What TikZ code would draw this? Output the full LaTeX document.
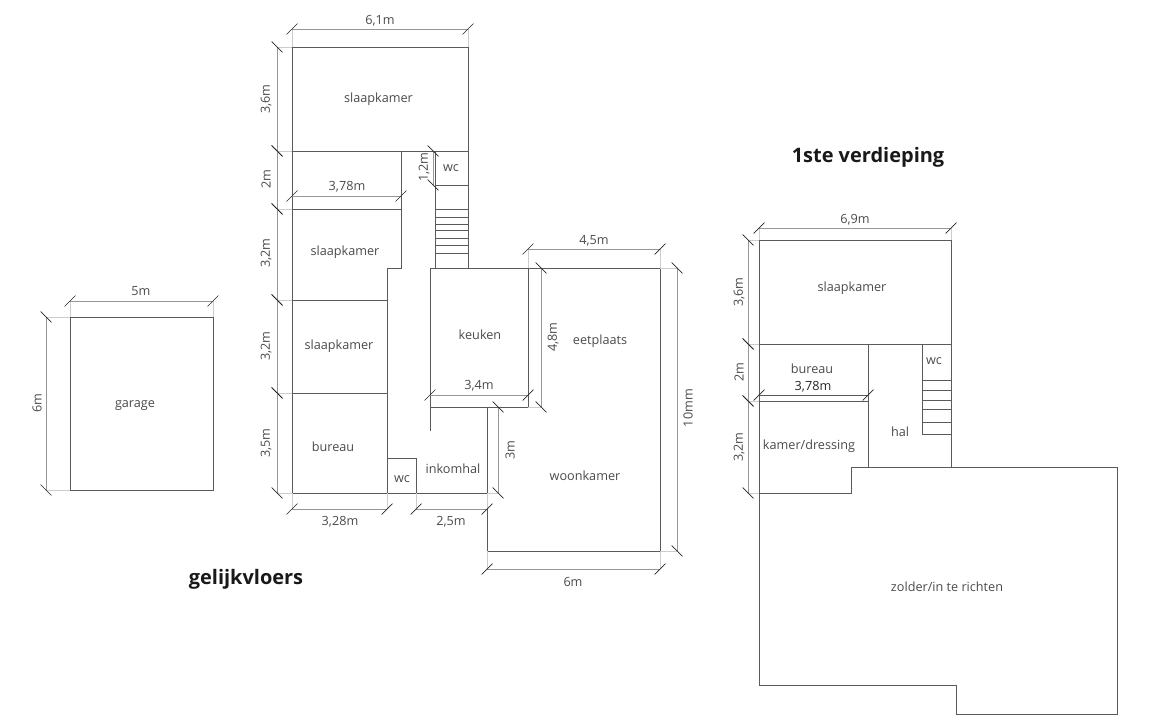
\documentclass[tikz,border=0pt]{standalone}
\usepackage{fontspec}
\setmainfont{Open Sans}
\usetikzlibrary{decorations.markings}
\definecolor{wallgrey}{HTML}{5A5A5A}
\definecolor{dimgrey}{HTML}{979797}
\definecolor{extgrey}{HTML}{CCCCCC}
\definecolor{textgrey}{HTML}{4A4A4A}
\tikzset{wall/.style={draw=wallgrey,line width=0.62pt}}
\tikzset{extline/.style={draw=extgrey,line width=0.6pt}}
\tikzset{dimline/.style={draw=dimgrey,line width=0.65pt,decoration={markings,
	mark=at position 0 with {\draw[black!85,line width=0.5pt] (-1.35mm,-1.35mm) -- (1.35mm,1.35mm);},
	mark=at position 1 with {\draw[black!85,line width=0.5pt] (-1.35mm,-1.35mm) -- (1.35mm,1.35mm);}},postaction={decorate}}}
\tikzset{room/.style={text=textgrey,font=\fontsize{9}{11}\selectfont,inner sep=0pt,yshift=-1.3pt}}
\tikzset{maat/.style={room}}
\tikzset{vmaat/.style={text=textgrey,font=\fontsize{9}{11}\selectfont,inner sep=0pt,rotate=90}}
\tikzset{titel/.style={text=black!90,font=\fontsize{14.2}{17}\selectfont\bfseries,inner sep=0pt,yshift=-1.3pt}}

\begin{document}
\begin{tikzpicture}[x=0.025cm,y=-0.025cm]
	\useasboundingbox (0,0) rectangle (1152,727);
	% garage
	\draw[wall] (70,317) rectangle (213,490);
	\draw[extline] (46,317) -- (70,317);
	\draw[extline] (46,490) -- (70,490);
	\draw[extline] (70,301) -- (70,317);
	\draw[extline] (213,301) -- (213,317);
	\draw[dimline] (70,301) -- (213,301);
	\draw[dimline] (46,317) -- (46,490);
	\node[maat] (garagew) at (141,289.5) {5m};
	\node[vmaat] (garageh) at (37,403) {6m};
	\node[room] (garage) at (135,403.5) {garage};
	% gelijkvloers, walls
	\draw[wall] (292,47) -- (468,47) -- (468,268);
	\draw[wall] (292,47) -- (292,493) -- (487,493);
	\draw[wall] (292,151) -- (468,151);
	\draw[wall] (292,209) -- (401,209);
	\draw[wall] (401,151) -- (401,268) -- (387,268) -- (387,493);
	\draw[wall] (292,300) -- (387,300);
	\draw[wall] (292,393) -- (387,393);
	\draw[wall] (387,458) -- (416,458) -- (416,493);
	\draw[wall] (435,151) -- (435,268);
	\draw[wall] (435,185) -- (468,185);
	\foreach \y in {209,217,224,230,238,245,253}
		\draw[wall] (435,\y) -- (468,\y);
	\draw[wall] (430,431) -- (430,268) -- (660,268) -- (660,551) -- (487,551) -- (487,407);
	\draw[wall] (430,407) -- (528,407) -- (528,268);
	% gelijkvloers, extension lines
	\foreach \y in {47,151,209,300,393,493}
		\draw[extline] (277,\y) -- (292,\y);
	\foreach \x in {292,468}
		\draw[extline] (\x,29) -- (\x,47);
	\foreach \x in {292,387,416,487}
		\draw[extline] (\x,493) -- (\x,509);
	\foreach \x in {528,660}
		\draw[extline] (\x,249) -- (\x,268);
	\foreach \y in {268,551}
		\draw[extline] (660,\y) -- (677,\y);
	\foreach \x in {487,660}
		\draw[extline] (\x,551) -- (\x,569);
	\draw[extline] (528,407) -- (541,407);
	\draw[extline] (487,493) -- (498,493);
	% gelijkvloers, dimensions
	\draw[dimline] (292,29) -- (468,29);
	\draw[dimline] (277,47) -- (277,151);
	\draw[dimline] (277,151) -- (277,209);
	\draw[dimline] (277,209) -- (277,300);
	\draw[dimline] (277,300) -- (277,393);
	\draw[dimline] (277,393) -- (277,493);
	\draw[dimline] (292,196) -- (401,196);
	\draw[dimline] (433,151) -- (433,185);
	\draw[dimline] (292,509) -- (387,509);
	\draw[dimline] (416,509) -- (487,509);
	\draw[dimline] (430,395) -- (528,395);
	\draw[dimline] (498,407) -- (498,493);
	\draw[dimline] (541,268) -- (541,407);
	\draw[dimline] (528,249) -- (660,249);
	\draw[dimline] (677,268) -- (677,551);
	\draw[dimline] (487,569) -- (660,569);
	% gelijkvloers, labels
	\node[maat] (m61) at (380,19) {6,1m};
	\node[vmaat] (m36) at (266,99) {3,6m};
	\node[vmaat] (m2) at (266,179) {2m};
	\node[vmaat] (m32a) at (266,253) {3,2m};
	\node[vmaat] (m32b) at (266,346) {3,2m};
	\node[vmaat] (m35) at (266,443) {3,5m};
	\node[maat] (m378) at (347,185) {3,78m};
	\node[vmaat] (m12) at (424,167) {1,2m};
	\node[maat] (m328) at (340,520) {3,28m};
	\node[maat] (m25) at (451,520) {2,5m};
	\node[maat] (m34) at (479,384) {3,4m};
	\node[vmaat] (m3) at (510,450) {3m};
	\node[vmaat] (m48) at (553,337) {4,8m};
	\node[maat] (m45) at (594,239) {4,5m};
	\node[vmaat] (m10) at (688,408) {10mm};
	\node[maat] (m6) at (573,580) {6m};
	\node[room] (slaap1) at (378.5,97) {slaapkamer};
	\node[room] (slaap2) at (345,250) {slaapkamer};
	\node[room] (slaap3) at (339,344) {slaapkamer};
	\node[room] (bureau) at (333,445) {bureau};
	\node[room] (wc1) at (451,166) {wc};
	\node[room] (wc2) at (402,477) {wc};
	\node[room] (inkomhal) at (453,467) {inkomhal};
	\node[room] (keuken) at (480,333) {keuken};
	\node[room] (eetplaats) at (600,339) {eetplaats};
	\node[room] (woonkamer) at (585,474) {woonkamer};
	\node[titel] (gelijkvloers) at (246,577) {gelijkvloers};
	% 1ste verdieping
	\draw[wall] (759,240) -- (951,240) -- (951,467);
	\draw[wall] (759,240) -- (759,685) -- (956,685) -- (956,714) -- (1117,714) -- (1117,467) -- (851,467) -- (851,493) -- (759,493);
	\draw[wall] (759,344) -- (951,344);
	\draw[wall] (759,401) -- (868,401);
	\draw[wall] (868,344) -- (868,467);
	\draw[wall] (922,344) -- (922,434);
	\foreach \y in {380,390,400,409,422,434}
		\draw[wall] (922,\y) -- (951,\y);
	\foreach \y in {240,344,401,493}
		\draw[extline] (748,\y) -- (759,\y);
	\foreach \x in {759,951}
		\draw[extline] (\x,228) -- (\x,240);
	\draw[dimline] (759,228) -- (951,228);
	\draw[dimline] (748,240) -- (748,344);
	\draw[dimline] (748,344) -- (748,401);
	\draw[dimline] (748,401) -- (748,493);
	\draw[dimline,draw=wallgrey] (759,395) -- (868,395);
	\node[maat] (v69) at (855,218) {6,9m};
	\node[vmaat] (v36) at (739,292) {3,6m};
	\node[vmaat] (v2) at (739,372) {2m};
	\node[vmaat] (v32) at (739,447) {3,2m};
	\node[maat,text=black!85] (v378) at (813,385) {3,78m};
	\node[room] (vslaap) at (852,286) {slaapkamer};
	\node[room] (vbureau) at (812,367) {bureau};
	\node[room] (vkamer) at (809,444) {kamer/dressing};
	\node[room] (vhal) at (900,430) {hal};
	\node[room] (vwc) at (934,359) {wc};
	\node[room] (zolder) at (947,585) {zolder/in te richten};
	\node[titel] (verdieping) at (868,155) {1ste verdieping};
\end{tikzpicture}
\end{document}
